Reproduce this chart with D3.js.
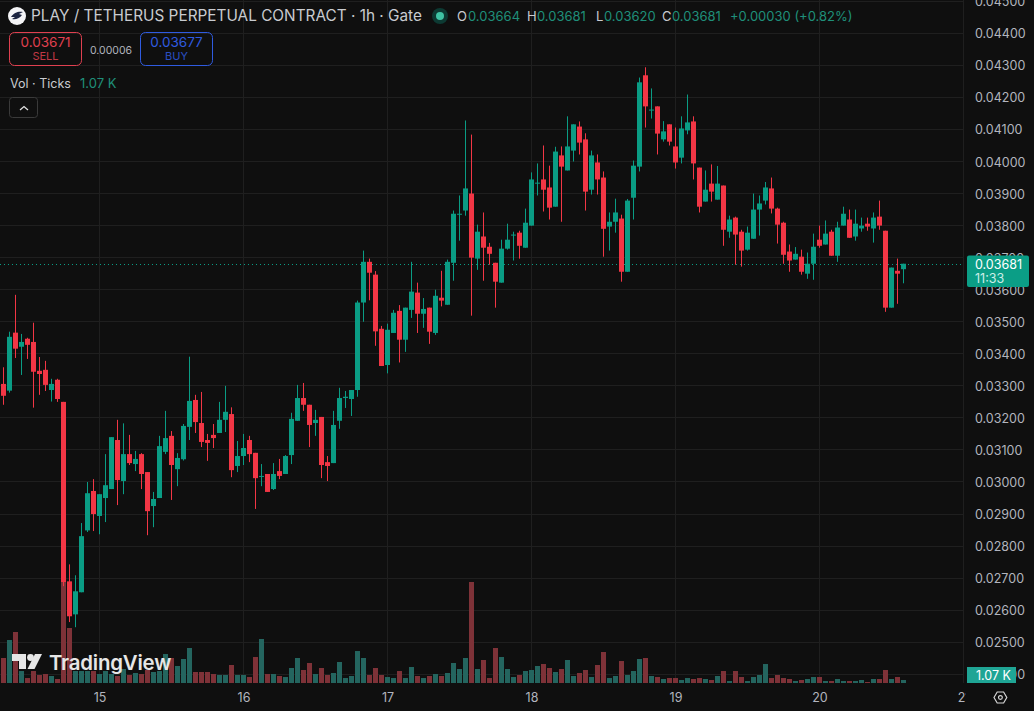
<!DOCTYPE html>
<html>
<head>
<meta charset="utf-8">
<script src="https://cdnjs.cloudflare.com/ajax/libs/d3/7.8.5/d3.min.js"></script>
<style>
  html, body { margin: 0; padding: 0; background: #0f0f0f; overflow: hidden; }
  svg { display: block; font-family: Inter, "Noto Sans", sans-serif; }
  .axis path, .axis line { display: none; }
</style>
</head>
<body>
<svg id="chart" width="1034" height="711"></svg>
<script>
// Hourly candles, prices in units of 0.00001
const opens = [3306,3285,3466,3422,3447,3437,3347,3350,3287,3319,
3250,2690,2587,2656,2849,2972,2894,2950,2978,3131,
3003,3087,3056,3087,3031,2925,2950,3094,3144,3040,
3071,3172,3256,3184,3131,3147,3153,3194,3212,3050,
3081,3131,3091,3016,3025,2978,3034,3025,3084,3191,
3262,3241,3184,3203,3062,3059,3191,3262,3259,3287,
3560,3687,3647,3478,3365,3465,3534,3444,3537,3591,
3525,3544,3465,3575,3553,3684,3834,3847,3900,3697,
3766,3734,3684,3622,3728,3769,3778,3731,3800,3931,
3944,3919,3859,4019,3972,4034,4109,4069,3912,3997,
3950,3797,3812,3822,3656,3887,3984,4269,4159,4172,
4069,4116,4047,4012,4097,4125,3981,3875,3931,3881,
3925,3781,3825,3781,3725,3759,3850,3878,3916,3853,
3809,3719,3694,3703,3650,3681,3756,3741,3781,3706,
3800,3819,3766,3791,3806,3791,3828,3784,3544,3659,
3664];
const closes = [3269,3453,3416,3437,3428,3344,3337,3303,3306,3259,
2688,2581,2659,2831,2965,2900,2962,2990,3140,3006,
3087,3059,3072,3025,2909,2947,3112,3137,3053,3075,
3175,3253,3187,3125,3122,3137,3194,3219,3037,3081,
3106,3087,3012,3019,2969,3025,3019,3081,3197,3262,
3241,3178,3194,3053,3050,3178,3262,3266,3287,3560,
3687,3653,3470,3362,3475,3528,3444,3544,3594,3525,
3540,3469,3581,3566,3687,3837,3837,3916,3700,3781,
3731,3712,3625,3728,3756,3772,3737,3809,3944,3934,
3912,3856,4031,3984,4047,4116,4059,3906,4019,3944,
3790,3812,3841,3656,3878,3987,4247,4172,4162,4087,
4094,4062,3997,4103,4122,3994,3859,3912,3906,3931,
3787,3819,3772,3722,3778,3850,3869,3919,3853,3803,
3709,3691,3712,3656,3681,3734,3737,3775,3706,3794,
3837,3762,3806,3800,3797,3825,3800,3544,3669,3650,
3681];
const highs = [3358,3469,3584,3462,3450,3497,3390,3378,3322,3322,
3250,2743,2709,2872,3000,3009,2962,3087,3140,3194,
3183,3147,3097,3090,3031,2969,3144,3222,3159,3090,
3181,3391,3272,3281,3150,3181,3250,3300,3233,3128,
3150,3144,3091,3056,3025,3059,3072,3084,3216,3303,
3309,3241,3225,3203,3081,3222,3294,3284,3287,3566,
3722,3697,3658,3487,3494,3537,3552,3544,3687,3622,
3574,3544,3600,3659,3694,3847,3894,4128,4084,3803,
3841,3746,3684,3756,3806,3781,3784,3853,3966,3994,
4050,3987,4046,4047,4141,4116,4125,4088,4034,4022,
3969,3841,3884,3834,3883,4003,4262,4294,4228,4172,
4126,4116,4106,4141,4209,4141,3981,3972,3991,3986,
3925,3831,3828,3787,3797,3900,3894,3936,3950,3856,
3812,3741,3733,3725,3716,3775,3800,3816,3787,3812,
3859,3850,3850,3825,3825,3841,3878,3784,3669,3697,
3681];
const lows = [3241,3279,3387,3334,3384,3232,3272,3284,3251,3250,
2675,2563,2547,2656,2844,2847,2837,2875,2978,2928,
2962,3053,3034,2978,2834,2859,2950,3087,2944,2987,
3067,3131,3153,3109,3066,3106,3153,3156,3015,3031,
3053,3062,2916,2987,2969,2975,3009,3025,3056,3191,
3222,3109,3144,3012,3003,3059,3166,3231,3206,3266,
3500,3567,3425,3362,3339,3465,3373,3406,3512,3465,
3481,3431,3459,3548,3553,3628,3753,3831,3519,3662,
3628,3678,3544,3622,3725,3691,3697,3731,3800,3894,
3844,3819,3859,3812,3972,4000,4022,3847,3897,3897,
3703,3722,3778,3625,3656,3819,3969,4106,4134,4022,
4062,4050,3978,3994,4085,3944,3841,3875,3875,3881,
3737,3762,3678,3672,3722,3759,3769,3866,3838,3744,
3681,3656,3694,3647,3634,3631,3731,3741,3706,3687,
3800,3762,3753,3781,3784,3747,3787,3531,3544,3556,
3620];
// Tick volume per candle, in thousands
const volumes = [8.93,15.35,18.21,4.28,1.78,4.28,2.86,3.21,2.5,1.43,
36.41,19.64,4.28,4.28,4.28,4.28,3.21,4.28,3.21,2.5,
5,2.86,3.57,3.21,4.64,3.93,4.28,10.35,8.93,6.07,
8.57,12.5,3.93,3.93,3.93,3.21,2.86,2.86,6.43,2.86,
2.86,2.14,9.28,15.71,3.21,3.21,2.5,2.14,5.36,8.93,
4.64,7.14,3.21,5.36,2.86,3.57,7.5,1.78,2.5,11.42,
8.93,2.86,5.36,2.86,2.14,1.78,4.28,1.78,5.71,2.5,
1.78,2.5,3.21,2.5,3.57,7.14,5,8.93,36.06,5,
8.21,1.78,12.5,9.28,5,2.14,2.86,4.28,4.64,6.07,
6.78,5.36,3.93,5,8.21,2.5,3.57,4.64,2.14,6.43,
11.07,1.78,2.5,7.85,2.86,4.28,8.57,8.93,2.5,2.14,
1.43,1.78,1.78,1.07,1.78,1.43,1.78,1.43,1.07,2.5,
4.28,0.71,4.28,2.14,0.71,2.14,2.86,6.78,1.78,2.86,
1.78,1.43,0.71,1.07,1.43,2.14,2.14,0.71,0.71,1.43,
0.71,0.71,0.71,1.07,0.36,1.43,1.43,4.64,1.43,2.14,
1.07];
const priceTicks = d3.range(2400, 4501, 100);
const dayTickIndex = [16, 40, 64, 88, 112, 136, 160];
const dayTickLabels = ["15", "16", "17", "18", "19", "20", "21"];
const lastClose = 3681;

const UP = "#0a9c84", DOWN = "#f23645";
const UP_VOL = "#24655f", DOWN_VOL = "#7e3238";
const BG = "#0f0f0f", GRID = "#1f1f1f", TEXT = "#c9cbd0", MUTED = "#b2b5be";

const paneRight = 963.5, paneBottom = 683;
const x = d3.scaleLinear().domain([0, 160]).range([3.5, 963.5]);
const y = d3.scaleLinear().domain([2400, 4500]).range([674.3, 1.25]);
const yVol = d3.scaleLinear().domain([0, 36.06]).range([paneBottom, 582]);
const fmt = v => (v / 100000).toFixed(5);
const crisp = v => Math.round(v - 0.5) + 0.5;

const svg = d3.select("#chart");
svg.append("rect").attr("width", 1034).attr("height", 711).attr("fill", BG);

// Grid
const grid = svg.append("g").attr("stroke", GRID).attr("stroke-width", 1);
grid.selectAll("line.h").data(priceTicks).join("line").attr("class", "h")
  .attr("x1", 0).attr("x2", paneRight)
  .attr("y1", d => crisp(y(d))).attr("y2", d => crisp(y(d)));
grid.selectAll("line.v").data(dayTickIndex).join("line").attr("class", "v")
  .attr("y1", 0).attr("y2", paneBottom)
  .attr("x1", d => x(d)).attr("x2", d => x(d));

const candles = d3.range(opens.length).map(i => ({
  i, o: opens[i], h: highs[i], l: lows[i], c: closes[i], v: volumes[i], up: closes[i] >= opens[i]
}));

// Volume histogram
svg.append("g").selectAll("rect").data(candles).join("rect")
  .attr("x", d => x(d.i) - 2.5).attr("width", 5)
  .attr("y", d => yVol(d.v)).attr("height", d => paneBottom - yVol(d.v))
  .attr("fill", d => d.up ? UP_VOL : DOWN_VOL);

// Last price line
const lastY = Math.floor(y(lastClose) + 0.5) + 0.5;
svg.append("line").attr("x1", 0).attr("x2", paneRight)
  .attr("y1", lastY).attr("y2", lastY)
  .attr("stroke", UP).attr("stroke-dasharray", "1 3").attr("stroke-width", 1);

// Candlesticks
const cg = svg.append("g").selectAll("g").data(candles).join("g");
cg.append("rect").attr("x", d => x(d.i) - 0.5).attr("width", 1)
  .attr("y", d => y(d.h)).attr("height", d => y(d.l) - y(d.h))
  .attr("fill", d => d.up ? UP : DOWN);
cg.append("rect").attr("x", d => x(d.i) - 2.5).attr("width", 5)
  .attr("y", d => y(Math.max(d.o, d.c)))
  .attr("height", d => Math.max(1, Math.abs(y(d.o) - y(d.c))))
  .attr("fill", d => d.up ? UP : DOWN);

// Watermark
const wm = svg.append("g").attr("fill", "#e6e6e6");
wm.append("path").attr("d", "M12 654h14v15h-7v-8h-7z");
wm.append("circle").attr("cx", 30.5).attr("cy", 657.5).attr("r", 3.4);
wm.append("path").attr("d", "M35 654h7l-7.5 15h-7z");
wm.append("text").attr("x", 49).attr("y", 670).attr("font-size", 20.4).attr("font-weight", 600)
  .attr("letter-spacing", -0.2).text("TradingView");

// Price scale
const priceAxis = d3.axisRight(y).tickValues(priceTicks).tickSize(0).tickPadding(0).tickFormat(fmt);
svg.append("rect").attr("x", 964).attr("y", 0).attr("width", 70).attr("height", 711).attr("fill", BG);
const pa = svg.append("g").attr("class", "axis").attr("transform", "translate(975,0.5)").call(priceAxis);
pa.selectAll("text").attr("fill", MUTED).attr("font-size", 12.5).attr("font-family", "Inter, 'Noto Sans', sans-serif");

// Time scale
const timeAxis = d3.axisBottom(x).tickValues(dayTickIndex).tickSize(0).tickPadding(0)
  .tickFormat((d, i) => dayTickLabels[i]);
const ta = svg.append("g").attr("class", "axis").attr("transform", "translate(0,693)").call(timeAxis);
ta.selectAll("text").attr("fill", MUTED).attr("font-size", 12.5).attr("font-family", "Inter, 'Noto Sans', sans-serif");
svg.append("rect").attr("x", 966).attr("y", 684).attr("width", 68).attr("height", 27).attr("fill", BG);

// Price and volume tags
svg.append("rect").attr("x", 967).attr("y", 255.5).attr("width", 62).attr("height", 31.5).attr("rx", 2).attr("fill", "#0b9e86");
svg.append("text").attr("x", 975).attr("y", 269).attr("fill", "#ffffff").attr("font-size", 12.5).text(fmt(lastClose));
svg.append("text").attr("x", 975).attr("y", 283).attr("fill", "#cdeee8").attr("font-size", 12.5).text("11:33");
svg.append("rect").attr("x", 967).attr("y", 667).attr("width", 49).attr("height", 16).attr("fill", "#1fa595");
svg.append("text").attr("x", 976).attr("y", 680).attr("fill", "#ffffff").attr("font-size", 12.5).text("1.07 K");

// Settings icon
svg.append("path").attr("fill", "none").attr("stroke", "#d6d6d6").attr("stroke-width", 1.2)
  .attr("d", "M994 697.5l3.2-5.5h6.4l3.2 5.5l-3.2 5.5h-6.4z");
svg.append("circle").attr("cx", 1000.4).attr("cy", 697.5).attr("r", 1.9)
  .attr("fill", "none").attr("stroke", "#d6d6d6").attr("stroke-width", 1.2);

// Header: symbol and OHLC readout
svg.append("circle").attr("cx", 17).attr("cy", 16).attr("r", 9).attr("fill", "#f4f4f6");
svg.append("path").attr("d", "M11 17c3-5 8-6 12-5l-4 2 3 1c-3 4-7 5-10 4l3-2z").attr("fill", "#1c2440");
svg.append("text").attr("x", 31).attr("y", 21).attr("fill", TEXT).attr("font-size", 15.35).attr("id", "title")
  .text("PLAY / TETHERUS PERPETUAL CONTRACT · 1h · Gate");
svg.append("circle").attr("cx", 440).attr("cy", 16).attr("r", 8).attr("fill", "#0d3a33");
svg.append("circle").attr("cx", 440).attr("cy", 16).attr("r", 4).attr("fill", "#3fc3a4");

const readout = [["O", 457, fmt(opens[150]), 468], ["H", 527, fmt(highs[150]), 537],
                 ["L", 596, fmt(lows[150]), 604], ["C", 662, fmt(closes[150]), 672]];
const ro = svg.append("g").attr("font-size", 13);
readout.forEach(([k, kx, v, vx]) => {
  ro.append("text").attr("x", kx).attr("y", 21).attr("fill", TEXT).text(k);
  ro.append("text").attr("x", vx).attr("y", 21).attr("fill", "#1f8f7a").text(v);
});
ro.append("text").attr("x", 730).attr("y", 21).attr("fill", "#1f8f7a").text("+0.00030 (+0.82%)");

// Sell / Buy buttons
function tradeBox(bx, color, price, label) {
  svg.append("rect").attr("x", bx + 0.5).attr("y", 32.5).attr("width", 72).attr("height", 33).attr("rx", 5)
    .attr("fill", "none").attr("stroke", color);
  svg.append("text").attr("x", bx + 36.5).attr("y", 46.5).attr("text-anchor", "middle")
    .attr("fill", color).attr("font-size", 13.5).text(price);
  svg.append("text").attr("x", bx + 36.5).attr("y", 60).attr("text-anchor", "middle")
    .attr("fill", color).attr("opacity", 0.85).attr("font-size", 11).text(label);
}
tradeBox(9, "#e04050", "0.03671", "SELL");
tradeBox(140, "#2f5be0", "0.03677", "BUY");
svg.append("text").attr("x", 90).attr("y", 54).attr("fill", MUTED).attr("font-size", 10.5).text("0.00006");

// Volume legend and collapse button
svg.append("text").attr("x", 10).attr("y", 88).attr("fill", TEXT).attr("font-size", 12.5).text("Vol · Ticks");
svg.append("text").attr("x", 80).attr("y", 88).attr("fill", "#1f8f7a").attr("font-size", 13).text("1.07 K");
svg.append("rect").attr("x", 9.5).attr("y", 97.5).attr("width", 28).attr("height", 20).attr("rx", 3)
  .attr("fill", "none").attr("stroke", "#3a3a3a");
svg.append("path").attr("d", "M20 110l4-3.5l4 3.5").attr("fill", "none").attr("stroke", "#e0e0e0").attr("stroke-width", 1.3);
</script>
</body>
</html>
